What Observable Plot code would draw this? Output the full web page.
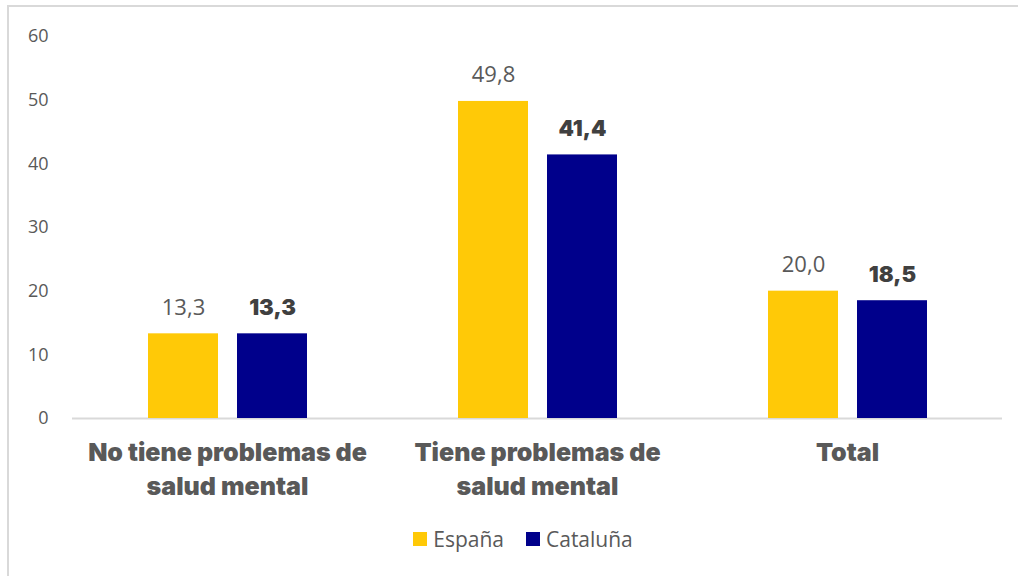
<!DOCTYPE html>
<html>
<head>
<meta charset="utf-8">
<script src="https://cdn.jsdelivr.net/npm/d3@7"></script>
<script src="https://cdn.jsdelivr.net/npm/@observablehq/plot@0.6"></script>
<style>
  html, body { margin: 0; padding: 0; background: #fff; overflow: hidden; }
  #wrap { position: relative; width: 1018px; height: 576px; }
  #frame { position: absolute; left: 7px; top: 5px; width: 1200px; height: 800px;
           border-top: 2px solid #d9d9d9; border-left: 2px solid #d9d9d9; }
  #chart { position: absolute; left: 0; top: 0; }
  #legend { position: absolute; left: 0; top: 525px; width: 1046px; display: flex; justify-content: center;
            align-items: center; font-family: "Open Sans", sans-serif; font-size: 21px; color: #595959; }
  .item { display: flex; align-items: center; margin: 0 11px; }
  .sw { width: 14px; height: 14px; margin-right: 6px; }
</style>
</head>
<body>
<div id="wrap">
  <div id="frame"></div>
  <div id="chart"></div>
  <div id="legend"></div>
</div>
<script>
const categories = ["No tiene problemas de\nsalud mental", "Tiene problemas de\nsalud mental", "Total"];
const series = ["España", "Cataluña"];
const espana = [13.3, 49.8, 20.0];
const cataluna = [13.3, 41.4, 18.5];
const yTicks = [0, 10, 20, 30, 40, 50, 60];
const colors = ["#FFC907", "#00008B"];

const data = [];
categories.forEach((c, i) => {
  data.push({cat: c, series: series[0], value: espana[i]});
  data.push({cat: c, series: series[1], value: cataluna[i]});
});
const fmt = d => d.toFixed(1).replace(".", ",");
const heavy = "Inter, 'Open Sans', sans-serif";

const chart = Plot.plot({
  width: 1018,
  height: 515,
  marginTop: 36,
  marginBottom: 97,
  marginLeft: 72,
  marginRight: 16,
  style: {fontFamily: "'Open Sans', sans-serif", background: "transparent", overflow: "visible"},
  fx: {domain: categories, padding: 0, label: null},
  x: {domain: series, paddingInner: 0.2135, paddingOuter: 0.844, axis: null},
  y: {domain: [0, 60], label: null},
  color: {domain: series, range: colors},
  marks: [
    Plot.axisY({ticks: yTicks, tickSize: 0, tickPadding: 24, fontSize: 18, fill: "#595959", label: null}),
    Plot.axisFx({anchor: "bottom", tickSize: 0, tickPadding: 18, fontSize: 25, fontWeight: 900,
                 fontFamily: heavy, fill: "#595959", lineHeight: 1.36, label: null}),
    Plot.ruleY([0], {stroke: "#d9d9d9", strokeWidth: 2}),
    Plot.barY(data, {fx: "cat", x: "series", y: "value", fill: "series"}),
    Plot.text(data.filter(d => d.series === series[0]), {
      fx: "cat", x: "series", y: "value", text: d => fmt(d.value),
      dy: -19, lineAnchor: "bottom", fontSize: 22, fill: "#595959"
    }),
    Plot.text(data.filter(d => d.series === series[1]), {
      fx: "cat", x: "series", y: "value", text: d => fmt(d.value),
      dy: -19, lineAnchor: "bottom", fontSize: 22, fontWeight: 900,
      fontFamily: heavy, fill: "#404040"
    })
  ]
});
document.getElementById("chart").appendChild(chart);

const legend = document.getElementById("legend");
series.forEach((s, i) => {
  const it = document.createElement("div");
  it.className = "item";
  it.innerHTML = `<div class="sw" style="background:${colors[i]}"></div><span>${s}</span>`;
  legend.appendChild(it);
});
</script>
</body>
</html>
